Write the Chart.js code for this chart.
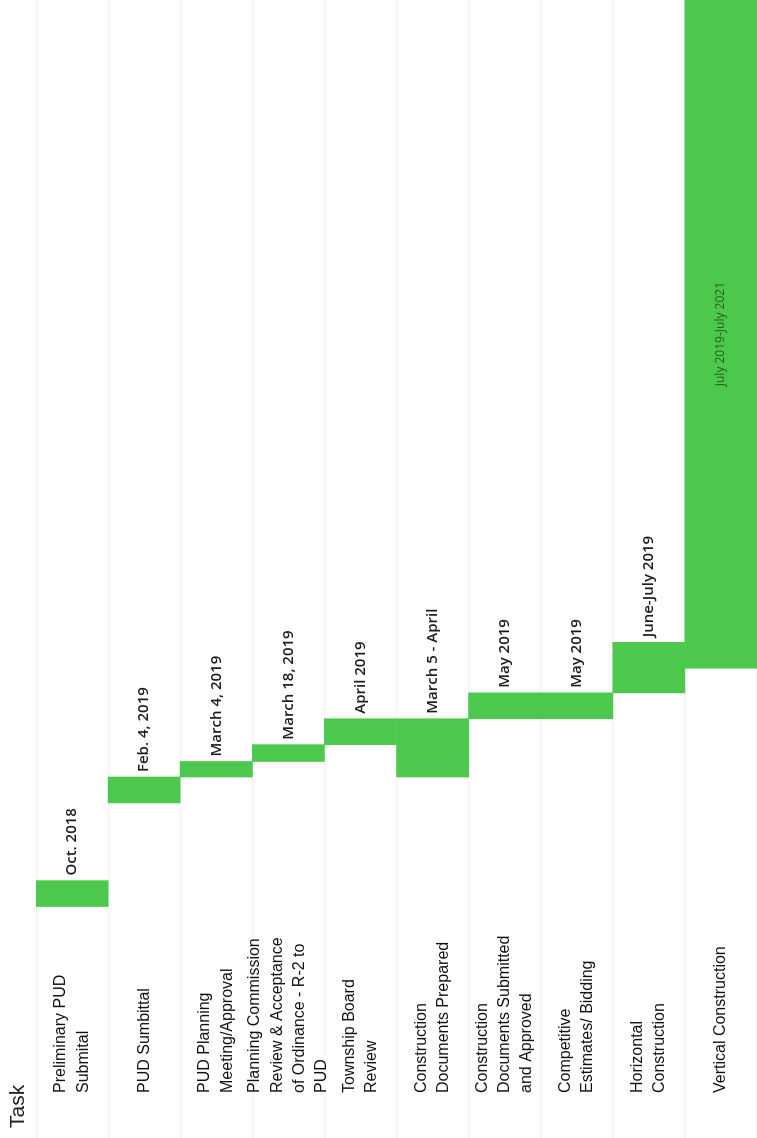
<!DOCTYPE html>
<html>
<head>
<meta charset="utf-8">
<script src="https://cdn.jsdelivr.net/npm/chart.js@4.4.1/dist/chart.umd.min.js"></script>
<style>
    html, body { margin: 0; padding: 0; background: #fff; overflow: hidden; }
    /* the chart is drawn as a normal horizontal gantt, then turned a quarter turn */
    #wrap {
        position: absolute; left: 0; top: 0;
        width: 1138px; height: 757px;
        transform-origin: 0 0;
        transform: translateY(1138px) rotate(-90deg);
    }
</style>
</head>
<body>
<div id="wrap"><canvas id="gantt" width="1138" height="757"></canvas></div>
<script>
// months counted from Oct 1, 2018
const tasks = [
    ["Preliminary PUD", "Submital"],
    "PUD Sumbittal",
    ["PUD Planning", "Meeting/Approval"],
    ["Planning Commission", "Review & Acceptance", "of Ordinance - R-2 to", "PUD"],
    ["Township Board", "Review"],
    ["Construction", "Documents Prepared"],
    ["Construction", "Documents Submitted", "and Approved"],
    ["Competitive", "Estimates/ Bidding"],
    ["Horizontal", "Construction"],
    "Vertical Construction"
];
const startMonths = [0, 4, 5, 5.6, 6.25, 5, 7.25, 7.25, 8.25, 9.2];
const endMonths   = [1, 5, 5.6, 6.25, 7.25, 7.25, 8.25, 8.25, 10.2, 35];
const dateLabels = [
    "Oct. 2018", "Feb. 4, 2019", "March 4, 2019", "March 18, 2019", "April 2019",
    "March 5 - April", "May 2019", "May 2019", "June-July 2019", "July 2019-July 2021"
];
const axisMin = -0.25;
const axisMax = 35;

const barLabels = {
    id: "barLabels",
    afterDatasetsDraw(chart) {
        const ctx = chart.ctx;
        const bars = chart.getDatasetMeta(0).data;
        ctx.save();
        ctx.textBaseline = "middle";
        bars.forEach(function (bar, i) {
            if (endMonths[i] >= axisMax) {
                // label sits inside the long bar
                ctx.font = "12px 'Open Sans'";
                ctx.fillStyle = "#2b5a22";
                ctx.textAlign = "center";
                ctx.fillText(dateLabels[i], (bar.base + bar.x) / 2, bar.y);
            } else {
                ctx.font = "600 15px 'Open Sans'";
                ctx.fillStyle = "#1c1c1c";
                ctx.textAlign = "left";
                ctx.fillText(dateLabels[i], bar.x + 5, bar.y);
            }
        });
        ctx.restore();
    }
};

const headerText = {
    id: "headerText",
    afterDraw(chart) {
        const ctx = chart.ctx;
        ctx.save();
        ctx.font = "21px 'Liberation Sans'";
        ctx.fillStyle = "#222";
        ctx.textAlign = "left";
        ctx.textBaseline = "top";
        ctx.fillText("Task", 10, 8);
        ctx.restore();
    }
};

new Chart(document.getElementById("gantt"), {
    type: "bar",
    data: {
        labels: tasks,
        datasets: [{
            data: tasks.map((t, i) => [startMonths[i], endMonths[i]]),
            backgroundColor: "#4cc94c",
            borderWidth: 0,
            barPercentage: 1,
            categoryPercentage: 1
        }]
    },
    options: {
        indexAxis: "y",
        responsive: false,
        animation: false,
        layout: { padding: { left: 45, top: 36, right: 0, bottom: 0 } },
        plugins: {
            legend: { display: false },
            tooltip: { enabled: false }
        },
        scales: {
            x: { type: "linear", min: axisMin, max: axisMax, display: false },
            y: {
                grid: { offset: true, color: "#f2f2f2", tickLength: 225, tickColor: "#f2f2f2" },
                border: { display: false },
                ticks: {
                    autoSkip: false,
                    crossAlign: "far",
                    color: "#111",
                    font: { family: "'Liberation Sans', Arial", size: 16, lineHeight: 1.4 }
                },
                afterFit(scale) {
                    scale.width = 180;
                    scale.paddingTop = 0;
                    scale.paddingBottom = 0;
                }
            }
        }
    },
    plugins: [barLabels, headerText]
});
</script>
</body>
</html>
